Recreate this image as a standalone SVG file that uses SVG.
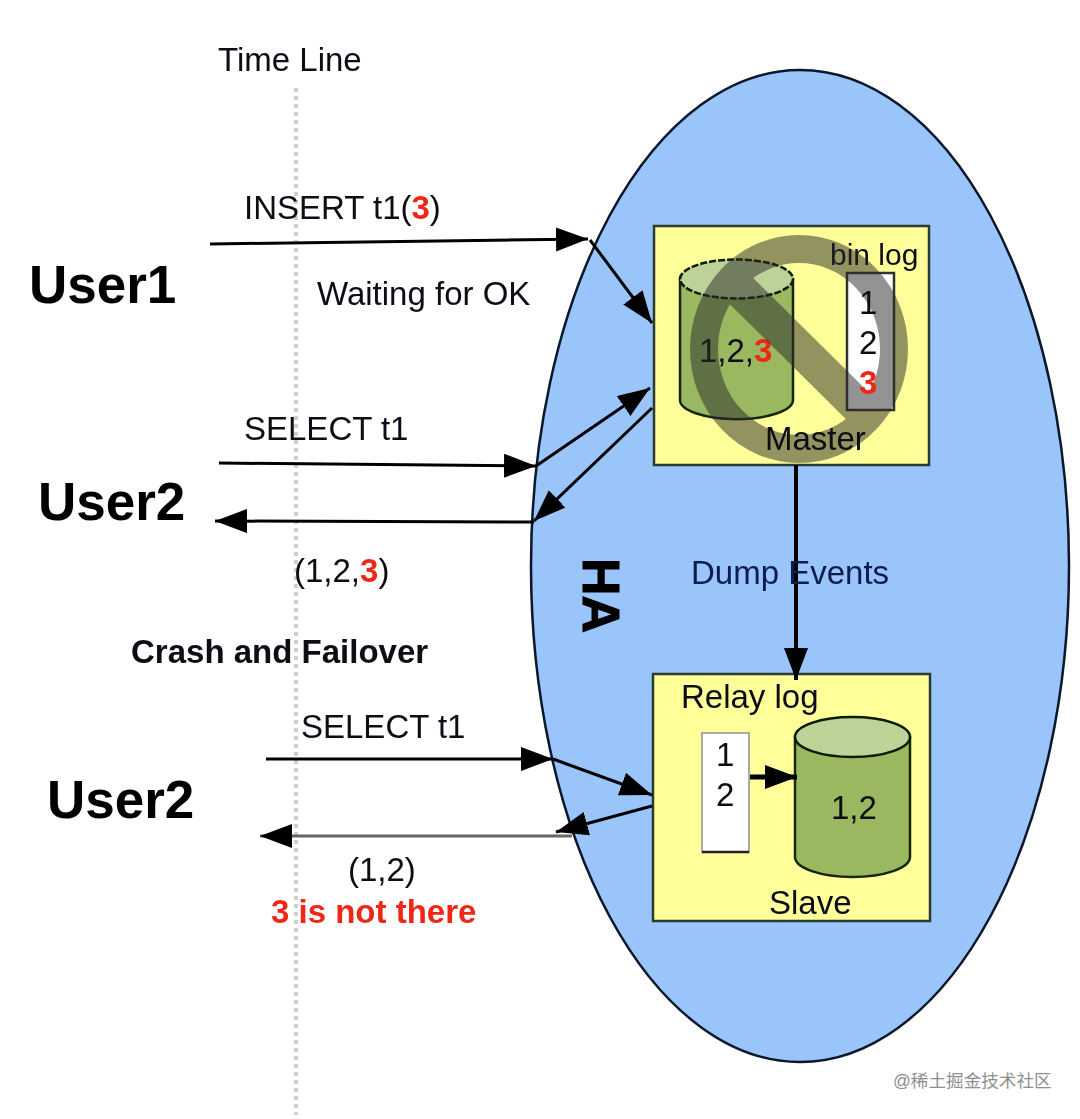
<svg xmlns="http://www.w3.org/2000/svg" width="1080" height="1119" viewBox="0 0 1080 1119">
<style>
text{font-family:"Liberation Sans",Arial,sans-serif;fill:#0a0a14}
.b{font-weight:700}
.r{fill:#f02818;font-weight:700}
.t{font-size:33px}
.u{font-size:53px;font-weight:700;fill:#000}
.box{fill:#ffff99;stroke:#2a3a30;stroke-width:2.500}
.cyl{fill:#99b85f;stroke:#18260c;stroke-width:2.500}
.top{fill:#bcd296;stroke:#0c1a04;stroke-width:2.500;stroke-dasharray:7 2}
.c{fill:none;stroke:#000;stroke-width:3}
.log{fill:#fff;stroke:#333;stroke-width:2.500}
</style>
<defs>
<marker id="a" markerUnits="userSpaceOnUse" markerWidth="34" markerHeight="26" refX="32" refY="12" orient="auto"><path d="M0 0L32 12L0 24Z" fill="#000"/></marker>
<filter id="s" x="-2%" y="-2%" width="104%" height="104%"><feGaussianBlur stdDeviation="0.7"/></filter>
<clipPath id="ringclip"><ellipse cx="799" cy="349" rx="105" ry="110"/></clipPath>
</defs>
<rect width="1080" height="1119" fill="#fff"/>
<g filter="url(#s)">
<g id="ha"><ellipse cx="800" cy="566" rx="269" ry="496" fill="#99c5fa" stroke="#08182a" stroke-width="2.500"/>
<text class="b" transform="translate(583,558) rotate(90)" font-size="52" style="fill:#000;stroke:#000;stroke-width:1">HA</text></g>
<g id="timeline"><line x1="296" y1="88" x2="296" y2="1115" stroke="#cfcfcf" stroke-width="4" stroke-dasharray="4 4"/>
<text class="t" x="218" y="71">Time Line</text></g>
<g id="master"><rect class="box" x="654" y="226" width="275" height="239"/>
<path class="cyl" d="M680 279V400A56 19 0 0 0 793 400V279Z"/><ellipse class="top" cx="736.500" cy="279" rx="56.500" ry="19.500"/>
<text class="t" x="699" y="362">1,2,<tspan class="r">3</tspan></text>
<rect class="log" x="847" y="273" width="47" height="137"/>
<text font-size="30" x="830" y="265">bin log</text></g>
<g id="prohibit" opacity=".5"><ellipse cx="799" cy="349" rx="95" ry="100" fill="none" stroke="#2a2a2a" stroke-width="28"/>
<line x1="700" y1="250" x2="895" y2="443" stroke="#2a2a2a" stroke-width="35" clip-path="url(#ringclip)"/></g>
<g id="master-labels">
<text class="t" x="859" y="314">1</text><text class="t" x="859" y="354">2</text><text class="t r" x="859" y="394">3</text>
<text class="t" x="765" y="450">Master</text></g>
<g id="slave"><rect class="box" x="653" y="674" width="277" height="247"/>
<path class="cyl" d="M795 737V857A57.500 20 0 0 0 910 857V737Z"/><ellipse class="top" style="stroke-dasharray:none" cx="852.500" cy="737" rx="57.500" ry="20"/>
<text class="t" x="831" y="819">1,2</text>
<text class="t" x="681" y="708">Relay log</text>
<rect x="702" y="733" width="47" height="119" fill="#fff" stroke="#aaa" stroke-width="2"/><line x1="702" y1="852" x2="749" y2="852" stroke="#223" stroke-width="2.500"/>
<text class="t" x="716" y="766">1</text><text class="t" x="716" y="806">2</text>
<text class="t" x="769" y="914">Slave</text></g>
<g id="connectors">
<path class="c" marker-end="url(#a)" d="M210 244L588 239"/>
<path class="c" marker-end="url(#a)" d="M590 240L652 323"/>
<path class="c" marker-end="url(#a)" d="M219 463L536 466"/>
<path class="c" marker-end="url(#a)" d="M536 466L650 388"/>
<path class="c" marker-end="url(#a)" d="M652 408L534 521"/>
<path class="c" marker-end="url(#a)" d="M534 522L215 521"/>
<path class="c" style="stroke-width:4" marker-end="url(#a)" d="M796 465V680"/>
<path class="c" style="stroke-width:5" marker-end="url(#a)" d="M750 777L797 777"/>
<path class="c" marker-end="url(#a)" d="M266 759L553 759"/>
<path class="c" marker-end="url(#a)" d="M553 759L652 795"/>
<path class="c" marker-end="url(#a)" d="M652 806L556 832"/>
<path class="c" style="stroke:#666" marker-end="url(#a)" d="M572 836L260 836"/>
</g>
<g id="labels">
<text class="t" x="244" y="219">INSERT t1(<tspan class="r">3</tspan>)</text>
<text class="t" x="317" y="305">Waiting for OK</text>
<text class="t" x="244" y="440">SELECT t1</text>
<text class="t" x="294" y="582">(1,2,<tspan class="r">3</tspan>)</text>
<text class="b" font-size="33" x="131" y="663">Crash and Failover</text>
<text class="t" x="301" y="738">SELECT t1</text>
<text class="t" x="348" y="881">(1,2)</text>
<text class="b" font-size="33" x="271" y="923" style="fill:#f02818">3 is not there</text>
<text class="t" x="691" y="584" style="fill:#0c1c50">Dump Events</text>
</g>
<g id="users"><text class="u" x="29" y="303">User1</text><text class="u" x="38" y="520">User2</text><text class="u" x="47" y="818">User2</text></g>
</g>
<text x="893" y="1087" font-size="17.600" style="font-family:'Liberation Sans','Noto Sans CJK SC',sans-serif;fill:#8f8f8f">@稀土掘金技术社区</text>
</svg>
